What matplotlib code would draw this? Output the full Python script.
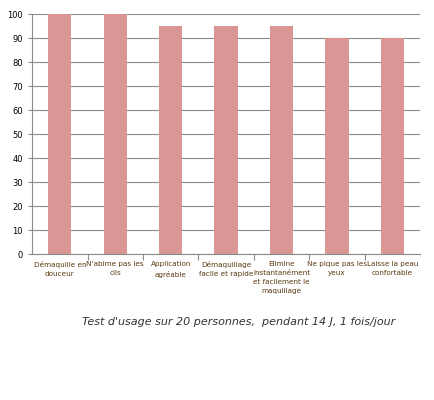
import matplotlib
matplotlib.use("Agg")
import matplotlib.pyplot as plt

categories = ["Démaquille en\ndouceur", "N'abime pas les\ncils", "Application\nagréable",
              "Démaquillage\nfacile et rapide", "Elimine\ninstantanément\net facilement le\nmaquillage",
              "Ne pique pas les\nyeux", "Laisse la peau\nconfortable"]
values = [100, 100, 95, 95, 95, 90, 90]

fig = plt.figure(figsize=(4.34, 4.0), dpi=100)
ax = fig.add_axes([0.074, 0.365, 0.894, 0.6])
ax.bar(range(len(values)), values, width=0.42, color="#d99694", zorder=2)
ax.set_xlim(-0.5, len(values) - 0.5)
ax.set_ylim(0, 100)
ax.set_yticks(range(0, 101, 10))
ax.yaxis.grid(True, color="#8c8c8c", linewidth=0.8, zorder=0)
ax.set_xticks([i + 0.5 for i in range(len(values) - 1)], minor=False)
ax.set_xticklabels([])
ax.tick_params(axis="x", length=4, color="#8c8c8c")
ax.tick_params(axis="y", length=3, color="#8c8c8c", labelsize=6)
for i, c in enumerate(categories):
    ax.text(i, -3, c, ha="center", va="top", fontsize=5.2, color="#5a3a10", linespacing=1.6)
for s in ["top", "right"]:
    ax.spines[s].set_visible(False)
ax.spines["left"].set_color("#8c8c8c")
ax.spines["bottom"].set_color("#8c8c8c")
fig.text(0.55, 0.195, "Test d'usage sur 20 personnes,  pendant 14 J, 1 fois/jour",
         ha="center", va="center", fontsize=8, style="italic", color="#333333")
fig.savefig("out.png", dpi=100)
